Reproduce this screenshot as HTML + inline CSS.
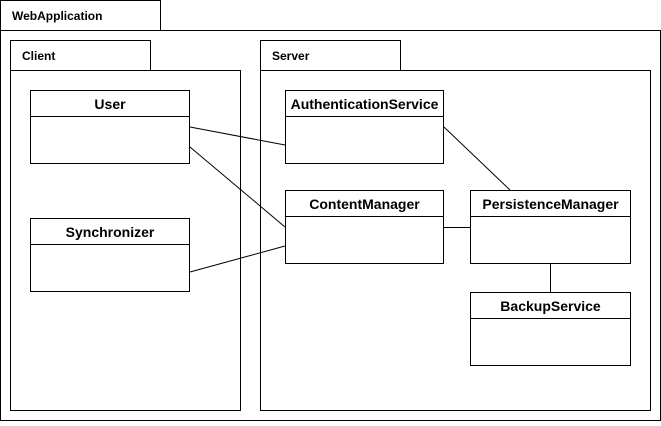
<!DOCTYPE html>
<html><head><style>body{margin:0;background:#fff}</style></head><body>
<svg width="661" height="421" xmlns="http://www.w3.org/2000/svg" font-family="Liberation Sans, sans-serif" font-weight="bold" fill="none" stroke="#000" stroke-width="1">
<rect x="0.5" y="0.5" width="160" height="30"/>
<rect x="0.5" y="30.5" width="660" height="390"/>
<rect x="10.5" y="40.5" width="140" height="30"/>
<rect x="10.5" y="70.5" width="230" height="340"/>
<rect x="260.5" y="40.5" width="140" height="30"/>
<rect x="260.5" y="70.5" width="390" height="340"/>
<g stroke-width="1">
<line x1="190" y1="127" x2="285" y2="145"/>
<line x1="190" y1="147" x2="285" y2="227"/>
<line x1="190" y1="272" x2="285" y2="246"/>
<line x1="444" y1="127" x2="510" y2="190"/>
<line x1="444" y1="227.5" x2="470" y2="227.5"/>
<line x1="550.5" y1="263" x2="550.5" y2="292"/>
</g>
<g fill="#fff">
<rect x="30.5" y="90.5" width="159" height="73"/><line x1="30.5" y1="116.5" x2="189.5" y2="116.5"/>
<rect x="30.5" y="218.5" width="159" height="73"/><line x1="30.5" y1="244.5" x2="189.5" y2="244.5"/>
<rect x="285.5" y="90.5" width="158" height="73"/><line x1="285.5" y1="116.5" x2="443.5" y2="116.5"/>
<rect x="285.5" y="190.5" width="158" height="73"/><line x1="285.5" y1="216.5" x2="443.5" y2="216.5"/>
<rect x="470.5" y="190.5" width="160" height="73"/><line x1="470.5" y1="216.5" x2="630.5" y2="216.5"/>
<rect x="470.5" y="292.5" width="160" height="73"/><line x1="470.5" y1="318.5" x2="630.5" y2="318.5"/>
</g>
<g fill="#000" stroke="none">
<text x="12" y="20" font-size="12">WebApplication</text>
<text x="22" y="60" font-size="12">Client</text>
<text x="272" y="60" font-size="12">Server</text>
<g font-size="14" text-anchor="middle">
<text x="110" y="109">User</text>
<text x="110" y="237">Synchronizer</text>
<text x="364.5" y="109">AuthenticationService</text>
<text x="364.5" y="209">ContentManager</text>
<text x="550.5" y="209">PersistenceManager</text>
<text x="550.5" y="311">BackupService</text>
</g>
</g>
</svg>
</body></html>
